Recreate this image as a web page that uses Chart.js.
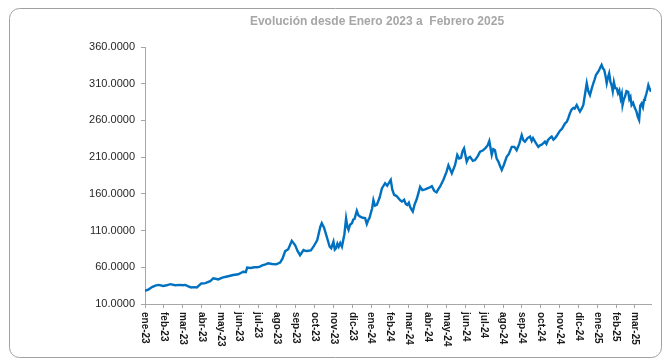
<!DOCTYPE html>
<html>
<head>
<meta charset="utf-8">
<script src="https://cdn.jsdelivr.net/npm/chart.js@4"></script>
<style>
  html, body { margin: 0; padding: 0; background: #fff; }
  #wrap { width: 663px; height: 360px; }
</style>
</head>
<body>
<div id="wrap"><canvas id="evolucion"></canvas></div>
<script>
const tickLabels = ['ene-23', 'feb-23', 'mar-23', 'abr-23', 'may-23', 'jun-23', 'jul-23', 'ago-23', 'sep-23',
    'oct-23', 'nov-23', 'dic-23', 'ene-24', 'feb-24', 'mar-24', 'abr-24', 'may-24', 'jun-24', 'jul-24',
    'ago-24', 'sep-24', 'oct-24', 'nov-24', 'dic-24', 'ene-25', 'feb-25', 'mar-25'];

// position in months counted from ene-23
const monthPos = [0.00, 0.20, 0.37, 0.55, 0.72, 0.97, 1.15, 1.34, 1.60, 1.87, 2.00, 2.14, 2.30, 2.45, 2.60,
    2.75, 2.99, 3.20, 3.46, 3.62, 3.80, 3.89, 4.10, 4.36, 4.68, 4.95, 5.21, 5.35, 5.42, 5.60, 5.80, 5.95,
    6.10, 6.22, 6.40, 6.53, 6.75, 6.96, 7.17, 7.30, 7.44, 7.60, 7.79, 7.97, 8.10, 8.23, 8.41, 8.55, 8.66,
    8.80, 8.94, 9.14, 9.30, 9.38, 9.50, 9.65, 9.80, 9.88, 10.00, 10.07, 10.14, 10.21, 10.28, 10.36, 10.45,
    10.58, 10.67, 10.74, 10.80, 10.88, 10.98, 11.05, 11.12, 11.24, 11.32, 11.42, 11.55, 11.68, 11.77,
    11.84, 11.91, 12.05, 12.12, 12.20, 12.30, 12.45, 12.57, 12.74, 12.85, 12.92, 13.04, 13.12, 13.22,
    13.35, 13.45, 13.55, 13.63, 13.75, 13.84, 13.92, 14.00, 14.07, 14.14, 14.21, 14.30, 14.42, 14.60,
    14.72, 14.86, 15.05, 15.22, 15.35, 15.47, 15.58, 15.66, 15.83, 16.00, 16.10, 16.20, 16.28, 16.45,
    16.57, 16.67, 16.77, 16.85, 16.93, 17.07, 17.16, 17.25, 17.40, 17.51, 17.65, 17.78, 17.92, 18.05,
    18.18, 18.27, 18.40, 18.48, 18.57, 18.66, 18.75, 18.84, 18.93, 19.05, 19.19, 19.30, 19.46, 19.60,
    19.72, 19.86, 19.99, 20.08, 20.16, 20.30, 20.43, 20.52, 20.59, 20.72, 20.87, 20.96, 21.05, 21.14,
    21.22, 21.30, 21.38, 21.48, 21.58, 21.67, 21.76, 21.85, 21.93, 22.02, 22.11, 22.20, 22.29, 22.38,
    22.46, 22.55, 22.64, 22.73, 22.80, 22.91, 23.00, 23.08, 23.17, 23.26, 23.35, 23.44, 23.52, 23.61,
    23.70, 23.79, 23.86, 23.93, 24.01, 24.09, 24.16, 24.23, 24.30, 24.37, 24.44, 24.50, 24.56, 24.63,
    24.70, 24.76, 24.82, 24.88, 24.95, 25.03, 25.10, 25.17, 25.24, 25.30, 25.34, 25.40, 25.47, 25.55,
    25.64, 25.70, 25.76, 25.82, 25.90, 26.00, 26.08, 26.15, 26.22, 26.28, 26.35, 26.42, 26.48, 26.53,
    26.60, 26.66, 26.71, 26.78, 26.85];

const values = [28, 30, 33, 35, 36, 34.5, 35.5, 37, 35.5, 36, 35.5, 36, 34, 32.5, 33,
    32.5, 38, 38.5, 41, 45, 44, 43.5, 46, 47.5, 49.5, 50.5, 54, 53.5, 59.5, 59, 60, 60,
    61, 62.5, 64, 65.5, 64.5, 64, 66.5, 72, 82, 84.5, 96, 90, 82, 76.5, 83.5, 82, 82.5,
    83, 88, 97, 115, 120, 114, 101, 88, 86, 95, 84, 86, 92, 88, 93, 88,
    105, 126.5, 115, 111, 118, 120, 125, 126, 137, 131, 129, 127.5, 127, 119,
    124, 127, 140, 151.5, 144, 145, 155, 167.5, 174.5, 171, 174, 179, 166, 158.5,
    157, 154, 151, 149.5, 152, 146, 145, 148, 142, 139, 136, 145, 153, 169.5,
    165, 166, 168, 170.5, 164, 162, 167, 170, 179, 190, 199, 193, 188, 199,
    213, 208, 209, 218, 222, 204, 209, 210.5, 205, 206, 211, 217.5, 219, 222,
    226, 232, 213, 221, 219.5, 208, 204, 198, 192.5, 200, 210.5, 214, 224, 224,
    219.5, 228, 240, 233, 231, 236, 238, 232, 236, 230, 224, 226, 227, 229,
    231, 228, 233, 236, 238, 234, 236, 239, 242.5, 246, 248, 252, 256, 258,
    263, 270, 275, 277, 276, 281, 276, 272, 276, 281, 296, 310.6, 300, 294.6,
    303, 310.6, 316, 322, 325, 328, 332, 335.5, 331, 328.7, 320, 310.6, 318, 324.2,
    312, 308, 300, 312, 304, 303.7, 297, 301, 290, 296, 281, 288, 292.4, 300,
    299, 289, 292, 281, 284, 276.5, 272, 265, 260.6, 280, 283, 278, 288, 290,
    296, 302, 308, 303, 299];

const yTicks = { min: 10, max: 360, step: 50 };

const fontFamily = "'Liberation Sans', Arial, sans-serif";
const axisGray = '#a6a6a6';

// rounded outer frame + title + downward-reading month labels
const framePlugin = {
    id: 'frame',
    beforeDraw(chart) {
        const ctx = chart.ctx;
        ctx.save();
        ctx.fillStyle = '#fff';
        ctx.fillRect(0, 0, chart.width, chart.height);
        ctx.strokeStyle = '#a0a0a0';
        ctx.lineWidth = 1;
        ctx.beginPath();
        ctx.roundRect(9.5, 8.5, 652, 349, 10);
        ctx.stroke();
        ctx.restore();
    },
    afterDraw(chart) {
        const ctx = chart.ctx;
        const x = chart.scales.x;
        ctx.save();
        ctx.fillStyle = '#a6a6a6';
        ctx.font = 'bold 12px ' + fontFamily;
        ctx.textAlign = 'center';
        ctx.textBaseline = 'middle';
        ctx.fillText('Evolución desde Enero 2023 a  Febrero 2025', 377, 22);

        ctx.fillStyle = '#1a1a1a';
        ctx.font = 'bold 10px ' + fontFamily;
        ctx.textAlign = 'left';
        tickLabels.forEach((label, i) => {
            ctx.save();
            ctx.translate(x.getPixelForValue(i), x.top + 8);
            ctx.rotate(Math.PI / 2);
            ctx.fillText(label, 0, 0);
            ctx.restore();
        });
        ctx.restore();
    }
};

const ctx = document.getElementById('evolucion').getContext('2d');

new Chart(ctx, {
    type: 'line',
    data: {
        datasets: [{
            data: monthPos.map((m, i) => ({ x: m, y: values[i] })),
            borderColor: '#0070c0',
            borderWidth: 2.4,
            pointRadius: 0,
            tension: 0,
            fill: false
        }]
    },
    options: {
        responsive: true,
        maintainAspectRatio: false,
        animation: false,
        layout: { padding: { left: 0, right: 12, top: 47, bottom: 0 } },
        plugins: {
            legend: { display: false },
            tooltip: { enabled: false }
        },
        scales: {
            x: {
                type: 'linear',
                min: 0,
                max: monthPos[monthPos.length - 1],
                border: { display: true, color: axisGray, width: 1 },
                grid: { drawOnChartArea: false, drawTicks: true, tickLength: 4, color: axisGray },
                ticks: { stepSize: 1, includeBounds: false, display: false },
                afterFit(scale) { scale.height = 56; }
            },
            y: {
                min: yTicks.min,
                max: yTicks.max,
                border: { display: true, color: axisGray, width: 1 },
                grid: { drawOnChartArea: false, drawTicks: true, tickLength: 4, color: axisGray },
                ticks: {
                    stepSize: yTicks.step,
                    padding: 6,
                    color: '#262626',
                    font: { family: fontFamily, size: 11 },
                    callback: v => v.toFixed(4)
                },
                afterFit(scale) { scale.width = 145; }
            }
        }
    },
    plugins: [framePlugin]
});
</script>
</body>
</html>
